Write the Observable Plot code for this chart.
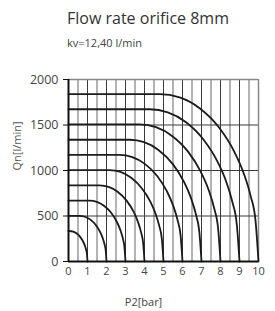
<!DOCTYPE html>
<html>
<head>
<meta charset="utf-8">
<script src="https://cdn.jsdelivr.net/npm/d3@7"></script>
<script src="https://cdn.jsdelivr.net/npm/@observablehq/plot@0.6"></script>
<style>
  html, body { margin: 0; padding: 0; background: #fff; }
  #wrap { width: 275px; font-family: "Open Sans", sans-serif; }
  #head { position: relative; height: 60px; }
  #title { position: absolute; left: 67px; top: 10px; font-size: 16px; line-height: 1; color: #333; white-space: nowrap; }
  #sub { position: absolute; left: 67px; top: 37px; font-size: 11px; line-height: 1; color: #444; white-space: nowrap; }
  svg { display: block; }
</style>
</head>
<body>
<div id="wrap">
  <div id="head">
    <div id="title">Flow rate orifice 8mm</div>
    <div id="sub">kv=12,40 l/min</div>
  </div>
  <div id="chart"></div>
</div>
<script>
// Inlet pressures P1 [bar] of each curve
const p1Values = [1, 2, 3, 4, 5, 6, 7, 8, 9, 10];
// Outlet pressure P2 [bar] points along each curve
const curveP2 = [
  [0, 0.245, 0.434, 0.622, 0.764, 0.858, 0.924, 0.972, 1],
  [0, 0.584, 0.867, 1.150, 1.434, 1.646, 1.788, 1.887, 1.958, 2],
  [0, 1.112, 1.490, 1.867, 2.245, 2.528, 2.717, 2.849, 2.943, 3],
  [0, 1.640, 2.112, 2.584, 3.056, 3.410, 3.646, 3.811, 3.929, 4],
  [0, 2.168, 2.734, 3.301, 3.867, 4.292, 4.575, 4.773, 4.915, 5],
  [0, 2.696, 3.357, 4.018, 4.678, 5.174, 5.504, 5.736, 5.901, 6],
  [0, 3.224, 3.979, 4.734, 5.490, 6.056, 6.434, 6.698, 6.887, 7],
  [0, 3.752, 4.602, 5.451, 6.301, 6.938, 7.363, 7.660, 7.873, 8],
  [0, 4.280, 5.224, 6.168, 7.112, 7.820, 8.292, 8.622, 8.858, 9],
  [0, 4.808, 5.846, 6.885, 7.923, 8.702, 9.221, 9.585, 9.844, 10]
];
// Flow Qn [l/min] at those points
const curveQ = [
  [335, 328, 307, 268, 221, 177, 131, 81, 0],
  [502, 502, 492, 460, 402, 332, 265, 197, 122, 0],
  [669, 669, 656, 613, 535, 442, 353, 262, 163, 0],
  [836, 836, 819, 767, 669, 553, 441, 328, 203, 0],
  [1004, 1004, 984, 920, 803, 664, 529, 394, 244, 0],
  [1171, 1171, 1147, 1073, 937, 774, 617, 459, 285, 0],
  [1338, 1338, 1311, 1226, 1070, 884, 705, 524, 325, 0],
  [1506, 1506, 1476, 1380, 1205, 995, 794, 590, 366, 0],
  [1673, 1673, 1639, 1533, 1338, 1106, 882, 656, 407, 0],
  [1840, 1840, 1803, 1687, 1472, 1216, 970, 721, 447, 0]
];
const xTicks = [0, 1, 2, 3, 4, 5, 6, 7, 8, 9, 10];
const yTicks = [0, 500, 1000, 1500, 2000];
const halfGrid = [0.5, 1.5, 2.5, 3.5, 4.5, 5.5, 6.5, 7.5, 8.5, 9.5];
const intGrid = [1, 2, 3, 4, 5, 6, 7, 8, 9];
const yGrid = [500, 1000, 1500];
const xLabel = "P2[bar]";
const yLabel = "Qn[l/min]";

const points = [];
p1Values.forEach((p1, i) => {
  curveP2[i].forEach((p2, j) => points.push({p1, p2, q: curveQ[i][j]}));
});

const chart = Plot.plot({
  width: 275,
  height: 251,
  marginTop: 19,
  marginBottom: 50,
  marginLeft: 68,
  marginRight: 17,
  style: {fontFamily: "Open Sans, sans-serif", background: "#fff"},
  x: {domain: [0, 10]},
  y: {domain: [0, 2000]},
  marks: [
    Plot.ruleX(halfGrid, {stroke: "#9a9a9a", strokeWidth: 1.5}),
    Plot.ruleX(intGrid, {stroke: "#3a3a3a", strokeWidth: 1}),
    Plot.ruleY(yGrid, {stroke: "#3a3a3a", strokeWidth: 1}),
    Plot.ruleY([2000], {stroke: "#888", strokeWidth: 1.5}),
    Plot.ruleX([10], {stroke: "#888", strokeWidth: 1.5}),
    Plot.line(points, {x: "p2", y: "q", z: "p1", curve: "monotone-x", stroke: "#1b1b1b", strokeWidth: 1.8}),
    Plot.ruleX([0], {stroke: "#111", strokeWidth: 2}),
    Plot.ruleY([0], {stroke: "#111", strokeWidth: 2}),
    Plot.axisY(yTicks, {tickSize: 5, tickPadding: 5, fontSize: 12.5, stroke: "#111", fill: "#444", label: null, tickFormat: d => String(d)}),
    Plot.axisX(xTicks, {tickSize: 0, tickPadding: 6, fontSize: 11, fill: "#444", label: null, tickFormat: d => String(d)}),
    Plot.text([xLabel], {frameAnchor: "bottom", dx: -20, dy: 41, fontSize: 11, fill: "#444", lineAnchor: "middle"}),
    Plot.text([yLabel], {frameAnchor: "left", dx: -51, rotate: -90, fontSize: 11, fill: "#555", lineAnchor: "middle"})
  ]
});
document.getElementById("chart").appendChild(chart);
</script>
</body>
</html>
